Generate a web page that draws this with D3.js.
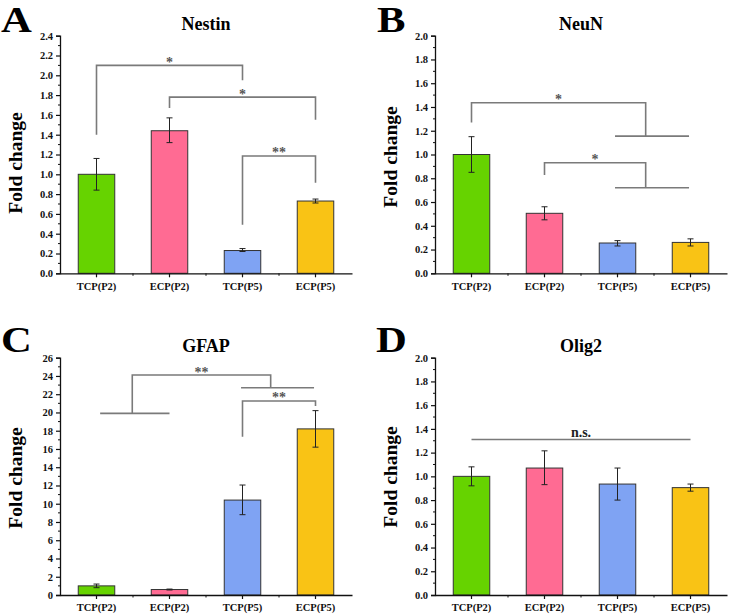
<!DOCTYPE html>
<html lang="en">
<meta charset="utf-8">
<title>Fold change panels</title>
<style>
  body { margin: 0; background: #fff; }
  text { font-family: "Liberation Serif", "Times New Roman", serif; font-weight: bold; }
</style>
<body>
<svg id="canvas"></svg>
<script src="https://cdn.jsdelivr.net/npm/d3@7"></script>
<script>

    //////////////////// data ////////////////////
    var categories   = ["TCP(P2)", "ECP(P2)", "TCP(P5)", "ECP(P5)"];
    var bar_colors   = ["#66d300", "#ff6b93", "#7fa3f3", "#f9c315"];

    var nestin_mean  = [1.00, 1.44, 0.23, 0.73];
    var nestin_lo    = [0.84, 1.32, 0.22, 0.71];
    var nestin_hi    = [1.16, 1.57, 0.25, 0.75];

    var neun_mean    = [1.00, 0.505, 0.255, 0.26];
    var neun_lo      = [0.85, 0.45, 0.23, 0.23];
    var neun_hi      = [1.15, 0.56, 0.275, 0.29];

    var gfap_mean    = [1.0, 0.6, 10.4, 18.2];
    var gfap_lo      = [0.8, 0.55, 8.8, 16.2];
    var gfap_hi      = [1.2, 0.65, 12.05, 20.2];

    var olig2_mean   = [1.00, 1.07, 0.935, 0.905];
    var olig2_lo     = [0.92, 0.93, 0.80, 0.875];
    var olig2_hi     = [1.08, 1.215, 1.07, 0.935];

    // brackets: polylines in (category index, value); label sits over the top segment
    var nestin_brackets = [
        { pts: [[0, 1.40], [0, 2.10], [2, 2.10], [2, 1.95]], label: "*" },
        { pts: [[1, 1.67], [1, 1.78], [3, 1.78], [3, 1.55]], label: "*" },
        { pts: [[2, 0.49], [2, 1.185], [3, 1.185], [3, 0.915]], label: "**" }
    ];
    var neun_brackets = [
        { pts: [[0, 1.27], [0, 1.436], [2.386, 1.436], [2.386, 1.155]], label: "*" },
        { pts: [[1.966, 1.155], [2.98, 1.155]] },
        { pts: [[1, 0.827], [1, 0.93], [2.386, 0.93], [2.386, 0.72]], label: "*" },
        { pts: [[1.966, 0.72], [2.98, 0.72]] }
    ];
    var gfap_brackets = [
        { pts: [[0.05, 19.9], [1.0, 19.9]] },
        { pts: [[0.49, 19.9], [0.49, 24.1], [2.386, 24.1], [2.386, 22.7]], label: "**" },
        { pts: [[1.98, 22.7], [2.98, 22.7]] },
        { pts: [[2, 17.35], [2, 21.26], [3, 21.26], [3, 20.7]], label: "**" }
    ];
    var olig2_brackets = [
        { pts: [[0, 1.31], [3, 1.31]], label: "n.s." }
    ];

    //////////////////// layout ////////////////////
    var width  = 729;
    var height = 614;

    var panels = [
        { letter: "A", title: "Nestin", mean: nestin_mean, lo: nestin_lo, hi: nestin_hi,
          brackets: nestin_brackets, ymax: 2.4, step: 0.2, fmt: ".1f",
          left: 60, right: 352, top: 35.7, bottom: 273.3, letter_x: 1, letter_y: 32, title_y: 30, ylab_y: 163 },
        { letter: "B", title: "NeuN", mean: neun_mean, lo: neun_lo, hi: neun_hi,
          brackets: neun_brackets, ymax: 2.0, step: 0.2, fmt: ".1f",
          left: 435, right: 727, top: 35.7, bottom: 273.3, letter_x: 377, letter_y: 32, title_y: 30, ylab_y: 157 },
        { letter: "C", title: "GFAP", mean: gfap_mean, lo: gfap_lo, hi: gfap_hi,
          brackets: gfap_brackets, ymax: 26, step: 2, fmt: "d",
          left: 60, right: 352, top: 357.7, bottom: 595, letter_x: 1, letter_y: 352, title_y: 352, ylab_y: 478 },
        { letter: "D", title: "Olig2", mean: olig2_mean, lo: olig2_lo, hi: olig2_hi,
          brackets: olig2_brackets, ymax: 2.0, step: 0.2, fmt: ".1f",
          left: 435, right: 727, top: 357.7, bottom: 595, letter_x: 376, letter_y: 352, title_y: 352, ylab_y: 477 }
    ];

    var axis_color    = "#111";
    var bar_stroke    = "#333";
    var bracket_color = "#7a7a7a";
    var star_color    = "#555";

    var canvas = d3.select("#canvas")
        .attr("width", width)
        .attr("height", height);

    panels.forEach(function (p) {
        var g = canvas.append("g");

        var x = d3.scaleBand().domain(categories).range([p.left, p.right]).padding(0.5).paddingOuter(0.25);
        var xi = d3.scaleLinear().domain([0, 3]).range([x(categories[0]) + x.bandwidth() / 2,
                                                        x(categories[3]) + x.bandwidth() / 2]);
        var y = d3.scaleLinear().domain([0, p.ymax]).range([p.bottom, p.top]);

        // panel letter (slightly widened like the original)
        g.append("text")
            .attr("transform", "translate(" + p.letter_x + "," + p.letter_y + ") scale(1.22,1)")
            .attr("font-size", 35)
            .text(p.letter);

        // title
        g.append("text")
            .attr("x", (p.left + p.right) / 2).attr("y", p.title_y)
            .attr("text-anchor", "middle")
            .attr("font-size", 18)
            .text(p.title);

        // y label
        g.append("text")
            .attr("transform", "translate(" + (p.left - 38) + "," + p.ylab_y + ") rotate(-90)")
            .attr("text-anchor", "middle")
            .attr("font-size", 19.5)
            .text("Fold change");

        // bars
        g.selectAll("rect.bar").data(p.mean).enter().append("rect")
            .attr("class", "bar")
            .attr("x", function (d, i) { return x(categories[i]); })
            .attr("y", function (d) { return y(d); })
            .attr("width", x.bandwidth())
            .attr("height", function (d) { return y(0) - y(d); })
            .attr("fill", function (d, i) { return bar_colors[i]; })
            .attr("stroke", bar_stroke)
            .attr("stroke-width", 1);

        // error bars
        var cap = 3;
        p.mean.forEach(function (d, i) {
            var cx = x(categories[i]) + x.bandwidth() / 2;
            g.append("line")
                .attr("x1", cx).attr("x2", cx)
                .attr("y1", y(p.lo[i])).attr("y2", y(p.hi[i]))
                .attr("stroke", "#222").attr("stroke-width", 1);
            [p.lo[i], p.hi[i]].forEach(function (v) {
                g.append("line")
                    .attr("x1", cx - cap).attr("x2", cx + cap)
                    .attr("y1", y(v)).attr("y2", y(v))
                    .attr("stroke", "#222").attr("stroke-width", 1);
            });
        });

        // y axis
        var yticks = d3.range(0, p.ymax + p.step / 2, p.step);
        var yaxis = g.append("g")
            .attr("transform", "translate(" + p.left + ",0)")
            .call(d3.axisLeft(y).tickValues(yticks).tickFormat(d3.format(p.fmt))
                .tickSize(4).tickPadding(3));
        yaxis.select(".domain").attr("stroke", axis_color).attr("stroke-width", 1.3);
        yaxis.selectAll(".tick line").attr("stroke", axis_color).attr("stroke-width", 1.2);
        yaxis.selectAll(".tick text")
            .attr("font-family", "Liberation Serif, serif")
            .attr("font-weight", "bold")
            .attr("font-size", 10.5)
            .attr("fill", "#111");
        var minor = d3.range(p.step / 2, p.ymax, p.step);
        yaxis.selectAll("line.minor").data(minor).enter().append("line")
            .attr("class", "minor")
            .attr("x1", -2).attr("x2", 0)
            .attr("y1", function (d) { return y(d); })
            .attr("y2", function (d) { return y(d); })
            .attr("stroke", axis_color).attr("stroke-width", 1);

        // x axis
        var xaxis = g.append("g")
            .attr("transform", "translate(0," + p.bottom + ")")
            .call(d3.axisBottom(x).tickSize(4).tickPadding(5).tickSizeOuter(0));
        xaxis.select(".domain").attr("stroke", axis_color).attr("stroke-width", 1.3);
        xaxis.selectAll(".tick line").attr("stroke", axis_color).attr("stroke-width", 1.2);
        xaxis.selectAll(".tick text")
            .attr("font-family", "Liberation Serif, serif")
            .attr("font-weight", "bold")
            .attr("font-size", 10.5)
            .attr("fill", "#111");
        var xminor = [0.5, 1.5, 2.5];
        xaxis.selectAll("line.minor").data(xminor).enter().append("line")
            .attr("class", "minor")
            .attr("x1", function (d) { return xi(d); })
            .attr("x2", function (d) { return xi(d); })
            .attr("y1", 0).attr("y2", 2.5)
            .attr("stroke", axis_color).attr("stroke-width", 1);

        // significance brackets
        var line = d3.line()
            .x(function (d) { return xi(d[0]); })
            .y(function (d) { return y(d[1]); });
        p.brackets.forEach(function (b) {
            g.append("path")
                .attr("d", line(b.pts))
                .attr("fill", "none")
                .attr("stroke", bracket_color)
                .attr("stroke-width", 1.6);
            if (b.label) {
                var top = b.pts.length > 2 ? [b.pts[1], b.pts[2]] : [b.pts[0], b.pts[1]];
                var is_ns = b.label === "n.s.";
                g.append("text")
                    .attr("x", (xi(top[0][0]) + xi(top[1][0])) / 2)
                    .attr("y", y(top[0][1]) + (is_ns ? -3 : 1.5))
                    .attr("text-anchor", "middle")
                    .attr("font-size", 14)
                    .attr("fill", is_ns ? "#222" : star_color)
                    .text(b.label);
            }
        });
    });

</script>
</body>
</html>
